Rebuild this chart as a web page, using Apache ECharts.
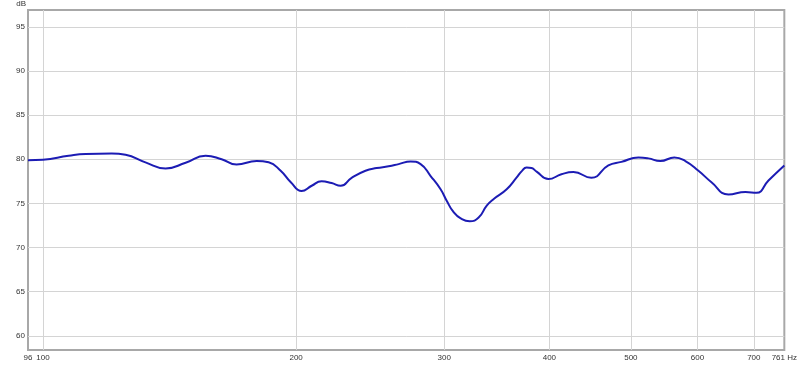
<!DOCTYPE html>
<html>
<head>
<meta charset="utf-8">
<script src="https://cdn.jsdelivr.net/npm/echarts@6/dist/echarts.min.js"></script>
<style>
html,body{margin:0;padding:0;background:#fff;}
#chart{width:800px;height:367px;}
</style>
</head>
<body>
<div id="chart"></div>
<script>
// Frequency (Hz) and level (dB)
const freqs = [96, 100, 107.3, 112.4, 120.7, 125.4, 132.4, 139.9, 147.8, 156.1, 163.1, 169.9, 179.5, 185.5, 191.7, 197.1, 203, 208.7, 214.4, 220.4, 225.9, 232.8, 241.8, 249.3, 257.6, 264.8, 273.6, 281.2, 289, 297, 302, 307.8, 313.8, 321.6, 329.6, 337, 343.5, 355.9, 365.8, 370.9, 375.8, 381, 386.3, 399, 413.4, 427.2, 448.7, 470.1, 487.2, 510.5, 524.6, 542, 563.2, 580.4, 601.6, 623.4, 653.1, 684.2, 705.1, 728.7, 761];
const levels = [79.9, 79.95, 80.4, 80.6, 80.65, 80.5, 79.65, 78.96, 79.6, 80.4, 80.0, 79.4, 79.8, 79.65, 78.7, 77.4, 76.4, 77.0, 77.5, 77.3, 77.0, 77.9, 78.7, 79.0, 79.2, 79.45, 79.75, 79.45, 78.1, 76.6, 75.3, 74.0, 73.3, 72.97, 73.4, 74.75, 75.5, 76.6, 77.95, 78.65, 79.07, 79.0, 78.6, 77.75, 78.3, 78.55, 77.9, 79.3, 79.7, 80.2, 80.1, 79.8, 80.2, 79.8, 78.7, 77.4, 76.0, 76.3, 76.2, 77.6, 79.3];
const xTicks = [96, 100, 200, 300, 400, 500, 600, 700, 761];
const xGrid = [100, 200, 300, 400, 500, 600, 700];
const yTicks = [60, 65, 70, 75, 80, 85, 90, 95];

const chart = echarts.init(document.getElementById('chart'), null, {renderer: 'canvas'});
const font = 'Liberation Sans, Arial, sans-serif';
chart.setOption({
  animation: false,
  backgroundColor: '#ffffff',
  grid: {left: 28, right: 14, top: 10, bottom: 17, show: true, borderColor: '#a8a8a8', borderWidth: 2},
  xAxis: {
    type: 'log', logBase: 10, min: 96, max: 761,
    axisLine: {show: false},
    axisTick: {show: false, customValues: xGrid},
    splitLine: {show: true, lineStyle: {color: '#d4d4d4', width: 1}},
    axisLabel: {
      customValues: xTicks, fontSize: 8, color: '#333', fontFamily: font, margin: 4,
      showMinLabel: true, showMaxLabel: true,
      formatter: v => (Math.round(v) === 761 ? '761 Hz' : String(Math.round(v)))
    },
    minorSplitLine: {show: false}
  },
  yAxis: {
    type: 'value', min: 58.4, max: 96.9,
    name: 'dB', nameLocation: 'end', nameGap: 2,
    nameTextStyle: {fontSize: 8, color: '#333', fontFamily: font, align: 'right', padding: [0, 2, 0, 0]},
    axisLine: {show: false},
    axisTick: {show: false, customValues: yTicks},
    splitLine: {show: true, lineStyle: {color: '#d4d4d4', width: 1}},
    axisLabel: {customValues: yTicks, fontSize: 8, color: '#333', fontFamily: font, margin: 3}
  },
  series: [{
    type: 'line',
    data: freqs.map((f, i) => [f, levels[i]]),
    smooth: 0.5,
    symbol: 'none',
    lineStyle: {color: '#1c1cb4', width: 2}
  }]
});
</script>
</body>
</html>
